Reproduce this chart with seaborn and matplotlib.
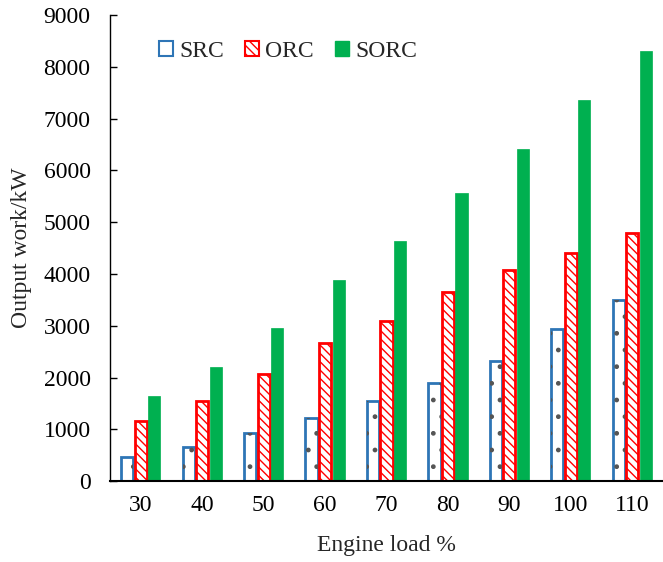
import matplotlib
matplotlib.use("Agg")
import matplotlib.pyplot as plt
import seaborn as sns
import pandas as pd
from matplotlib.patches import Patch, Rectangle

loads = ["30", "40", "50", "60", "70", "80", "90", "100", "110"]
src = [470, 660, 920, 1220, 1540, 1900, 2320, 2940, 3490]
orc = [1170, 1540, 2060, 2660, 3090, 3650, 4070, 4400, 4800]
sorc = [1640, 2210, 2950, 3890, 4640, 5560, 6410, 7370, 8310]
series = ["SRC", "ORC", "SORC"]

rows = []
for name, vals in zip(series, [src, orc, sorc]):
    for l, v in zip(loads, vals):
        rows.append({"load": l, "cycle": name, "value": v})
df = pd.DataFrame(rows)

sns.set_theme(style="white")
plt.rcParams["font.family"] = ["Liberation Serif", "DejaVu Serif"]
plt.rcParams["hatch.linewidth"] = 1.0

fig = plt.figure(figsize=(6.63, 5.62), dpi=100)
ax = fig.add_axes([0.166, 0.144, 0.834, 0.829])

sns.barplot(data=df, x="load", y="value", hue="cycle", order=loads,
            hue_order=series, ax=ax, width=0.66, gap=0.1, legend=False)

styles = {
    "SRC": dict(facecolor="white", edgecolor="#2E75B6", hatch=None, lw=2.0),
    "ORC": dict(facecolor="white", edgecolor="#FF0000", hatch="\\\\\\\\", lw=2.0),
    "SORC": dict(facecolor="#00B050", edgecolor="#00B050", hatch=None, lw=0.5),
}
n = len(loads)
bars = list(ax.patches[:3 * n])
for i, p in enumerate(bars):
    s = styles[series[i // n]]
    p.set_facecolor(s["facecolor"])
    p.set_edgecolor(s["edgecolor"])
    p.set_linewidth(s["lw"])
    if s["hatch"]:
        p.set_hatch(s["hatch"])
    if series[i // n] == "SRC":
        ov = Rectangle(p.get_xy(), p.get_width(), p.get_height(), facecolor="none",
                       edgecolor="#555555", lw=0, hatch=".", zorder=p.get_zorder() + 0.1)
        ax.add_patch(ov)

ax.set_ylim(0, 9000)
ax.set_yticks(range(0, 9001, 1000))
ax.set_xlim(-0.5, n - 0.5)
ax.set_xlabel("Engine load %", fontsize=17, labelpad=14)
ax.set_ylabel("Output work/kW", fontsize=17, labelpad=8)
ax.tick_params(axis="both", labelsize=17, colors="black")
ax.tick_params(axis="y", direction="in", length=5, width=1, left=True, pad=14)
ax.tick_params(axis="x", length=0, pad=10)
for side in ["top", "right"]:
    ax.spines[side].set_visible(False)
for side in ["left", "bottom"]:
    ax.spines[side].set_color("black")
ax.spines["left"].set_linewidth(1.0)
ax.spines["bottom"].set_linewidth(1.5)

handles = [Patch(facecolor="white", edgecolor="#2E75B6", lw=1.5, label="SRC"),
           Patch(facecolor="white", edgecolor="#FF0000", hatch="\\\\\\\\", lw=1.5, label="ORC"),
           Patch(facecolor="#00B050", edgecolor="#00B050", label="SORC")]
ax.legend(handles=handles, ncol=3, frameon=False, fontsize=17,
          loc="upper left", bbox_to_anchor=(0.05, 0.99),
          handlelength=0.6, handleheight=0.6, handletextpad=0.25, columnspacing=0.9)

fig.savefig("out.png", dpi=100)
